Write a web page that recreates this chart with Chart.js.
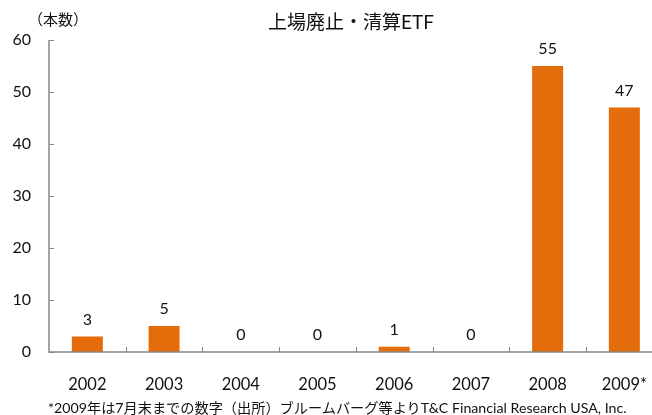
<!DOCTYPE html>
<html>
<head>
<meta charset="utf-8">
<script src="https://cdn.jsdelivr.net/npm/chart.js@4/dist/chart.umd.min.js"></script>
<style>
    html, body { margin: 0; padding: 0; background: #fff; overflow: hidden; width: 652px; height: 415px; }
    #wrap { position: relative; width: 670px; height: 415px; }
    #title { position: absolute; left: 0; width: 702px; top: 7px; text-align: center; font: 19px Lato, 'Noto Sans CJK JP', sans-serif; color: #111; }
    #unit { position: absolute; left: 28px; top: 8px; font: 15px Lato, 'Noto Sans CJK JP', sans-serif; color: #111; }
    #note { position: absolute; left: 48px; top: 397px; font: 14.2px Lato, 'Noto Sans CJK JP', sans-serif; color: #111; white-space: nowrap; }
</style>
</head>
<body>
<div id="wrap">
    <canvas id="chart" width="670" height="400"></canvas>
    <div id="title">上場廃止・清算ETF</div>
    <div id="unit">（本数）</div>
    <div id="note">*2009年は7月末までの数字（出所）ブルームバーグ等よりT&amp;C Financial Research USA, Inc.</div>
</div>
<script>
const years = ['2002', '2003', '2004', '2005', '2006', '2007', '2008', '2009*'];
const delisted = [3, 5, 0, 0, 1, 0, 55, 47];
const yTicks = [0, 10, 20, 30, 40, 50, 60];

const axisColor = '#868686';
const barColor = '#E46C0A';
const fontFamily = "Lato, 'Noto Sans CJK JP', sans-serif";

// value labels above each bar
const barLabels = {
    id: 'barLabels',
    afterDatasetsDraw(chart) {
        const ctx = chart.ctx;
        const meta = chart.getDatasetMeta(0);
        ctx.save();
        ctx.fillStyle = '#111';
        ctx.font = '16px ' + fontFamily;
        ctx.textAlign = 'center';
        ctx.textBaseline = 'middle';
        meta.data.forEach((bar, i) => {
            ctx.fillText(String(delisted[i]), bar.x, bar.y - 17);
        });
        ctx.restore();
    }
};

// axis lines with small inside tick marks
const insideTicks = {
    id: 'insideTicks',
    afterDraw(chart) {
        const ctx = chart.ctx;
        const x = chart.scales.x, y = chart.scales.y;
        const area = chart.chartArea;
        ctx.save();
        ctx.strokeStyle = axisColor;
        ctx.lineWidth = 1.5;
        ctx.beginPath();
        ctx.moveTo(area.left, y.getPixelForValue(60));
        ctx.lineTo(area.left, area.bottom);
        ctx.lineTo(area.right, area.bottom);
        ctx.stroke();
        ctx.lineWidth = 1;
        ctx.beginPath();
        yTicks.forEach(v => {
            const py = Math.round(y.getPixelForValue(v)) + 0.5;
            ctx.moveTo(area.left, py);
            ctx.lineTo(area.left + 5, py);
        });
        for (let i = 1; i < years.length; i++) {
            const px = Math.round((x.getPixelForValue(i - 1) + x.getPixelForValue(i)) / 2) + 0.5;
            ctx.moveTo(px, area.bottom);
            ctx.lineTo(px, area.bottom - 5);
        }
        ctx.stroke();
        ctx.restore();
    }
};

new Chart(document.getElementById('chart'), {
    type: 'bar',
    data: {
        labels: years,
        datasets: [{ data: delisted, backgroundColor: barColor, borderWidth: 0, barPercentage: 0.8, categoryPercentage: 0.505 }]
    },
    options: {
        responsive: false,
        animation: false,
        layout: { padding: { top: 40, right: 0, bottom: 0, left: 0 } },
        plugins: { legend: { display: false }, tooltip: { enabled: false } },
        scales: {
            x: {
                grid: { display: false, drawTicks: false },
                border: { display: false },
                ticks: { color: '#111', font: { family: fontFamily, size: 16.5 }, padding: 23, maxRotation: 0 },
                afterFit(s) { s.height = 48; }
            },
            y: {
                min: 0, max: 60,
                afterBuildTicks(s) { s.ticks = yTicks.map(v => ({ value: v })); },
                grid: { display: false, drawTicks: false },
                border: { display: false },
                ticks: { color: '#111', font: { family: fontFamily, size: 16 }, padding: 18 },
                afterFit(s) { s.width = 49; }
            }
        }
    },
    plugins: [barLabels, insideTicks]
});
</script>
</body>
</html>
